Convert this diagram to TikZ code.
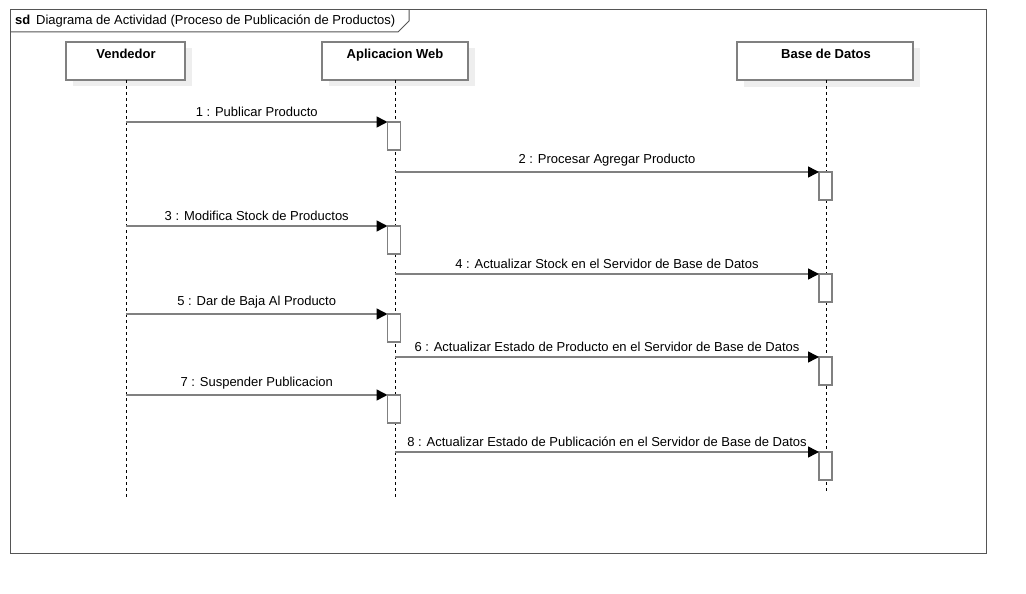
\documentclass[tikz,border=0pt]{standalone}
\usepackage{fontspec}
\setmainfont{Liberation Sans}
\usetikzlibrary{arrows.meta}
\definecolor{lnc}{HTML}{808080}
\definecolor{frc}{HTML}{555555}
\definecolor{shd}{HTML}{EEEEEE}
\begin{document}
\begin{tikzpicture}[x=1pt,y=-1pt,
  txt/.style={font=\fontsize{13}{15}\selectfont, text=black, inner sep=0pt},
  head/.style={draw=lnc, line width=1.6pt, fill=white, minimum width=#1, minimum height=38pt, inner sep=0pt, outer sep=0pt},
  life/.style={draw=black, dash pattern=on 3pt off 3pt, line width=0.8pt},
  act/.style={draw=lnc, line width=1.6pt, fill=white, minimum width=13pt, minimum height=28pt, inner sep=0pt, outer sep=0pt},
  msg/.style={draw=lnc, line width=1.5pt, -{Triangle[length=11pt,width=11pt,fill=black,color=black]}},
  lbl/.style={txt, anchor=base}
]
\useasboundingbox (0,0) rectangle (1026,594);
\fill[white] (0,0) rectangle (1026,594);
% frame
\draw[frc, line width=1pt] (10,10) rectangle (986,553);
\draw[frc, line width=1pt] (10,32) -- (398,32) -- (409,21) -- (409,10);
\node[txt, anchor=base west] (title) at (15,25) {\textbf{sd}\ \,Diagrama de Actividad (Proceso de Publicación de Productos)};
% shadows
\fill[shd] (73,48) rectangle (192,86);
\fill[shd] (329,48) rectangle (475,86);
\fill[shd] (744,48) rectangle (920,87);
% heads
\node[head=119pt, anchor=north west] (ven) at (66,42) {};
\node[head=146pt, anchor=north west] (app) at (322,42) {};
\node[head=176pt, anchor=north west] (bd) at (737,42) {};
\node[txt, anchor=base] (venT) at (126,59) {\textbf{Vendedor}};
\node[txt, anchor=base] (appT) at (395,59) {\textbf{Aplicacion Web}};
\node[txt, anchor=base] (bdT) at (826,59) {\textbf{Base de Datos}};
% lifeline ends
\coordinate (venE) at (126,497);
\coordinate (appE) at (395,497);
\coordinate (bdE) at (826,492);
\draw[life] (ven.south -| venE) -- (venE);
\draw[life] (app.south -| appE) -- (appE);
\draw[life] (bd.south -| bdE) -- (bdE);
% activations
\foreach \n/\x/\y in {a1/394/136, a3/394/240, a5/394/328, a7/394/409}{
  \node[act] (\n) at (\x,\y) {};
}
\foreach \n/\x/\y in {a2/825.5/186, a4/825.5/288, a6/825.5/371, a8/825.5/466}{
  \node[act] (\n) at (\x,\y) {};
}
% messages
\coordinate (s1) at (126,122);
\coordinate (s3) at (126,226);
\coordinate (s5) at (126,314);
\coordinate (s7) at (126,395);
\coordinate (s2) at (395,172);
\coordinate (s4) at (395,274);
\coordinate (s6) at (395,357);
\coordinate (s8) at (395,452);
\draw[msg] (s1) -- (a1.north west) node[lbl, midway, above=5pt] {1 : Publicar Producto};
\draw[msg] (s2) -- (a2.north west) node[lbl, midway, above=5pt] {2 : Procesar Agregar Producto};
\draw[msg] (s3) -- (a3.north west) node[lbl, midway, above=5pt] {3 : Modifica Stock de Productos};
\draw[msg] (s4) -- (a4.north west) node[lbl, midway, above=5pt] {4 : Actualizar Stock en el Servidor de Base de Datos};
\draw[msg] (s5) -- (a5.north west) node[lbl, midway, above=5pt] {5 : Dar de Baja Al Producto};
\draw[msg] (s6) -- (a6.north west) node[lbl, midway, above=5pt] {6 : Actualizar Estado de Producto en el Servidor de Base de Datos};
\draw[msg] (s7) -- (a7.north west) node[lbl, midway, above=5pt] {7 : Suspender Publicacion};
\draw[msg] (s8) -- (a8.north west) node[lbl, midway, above=5pt] {8 : Actualizar Estado de Publicación en el Servidor de Base de Datos};
\end{tikzpicture}
\end{document}
